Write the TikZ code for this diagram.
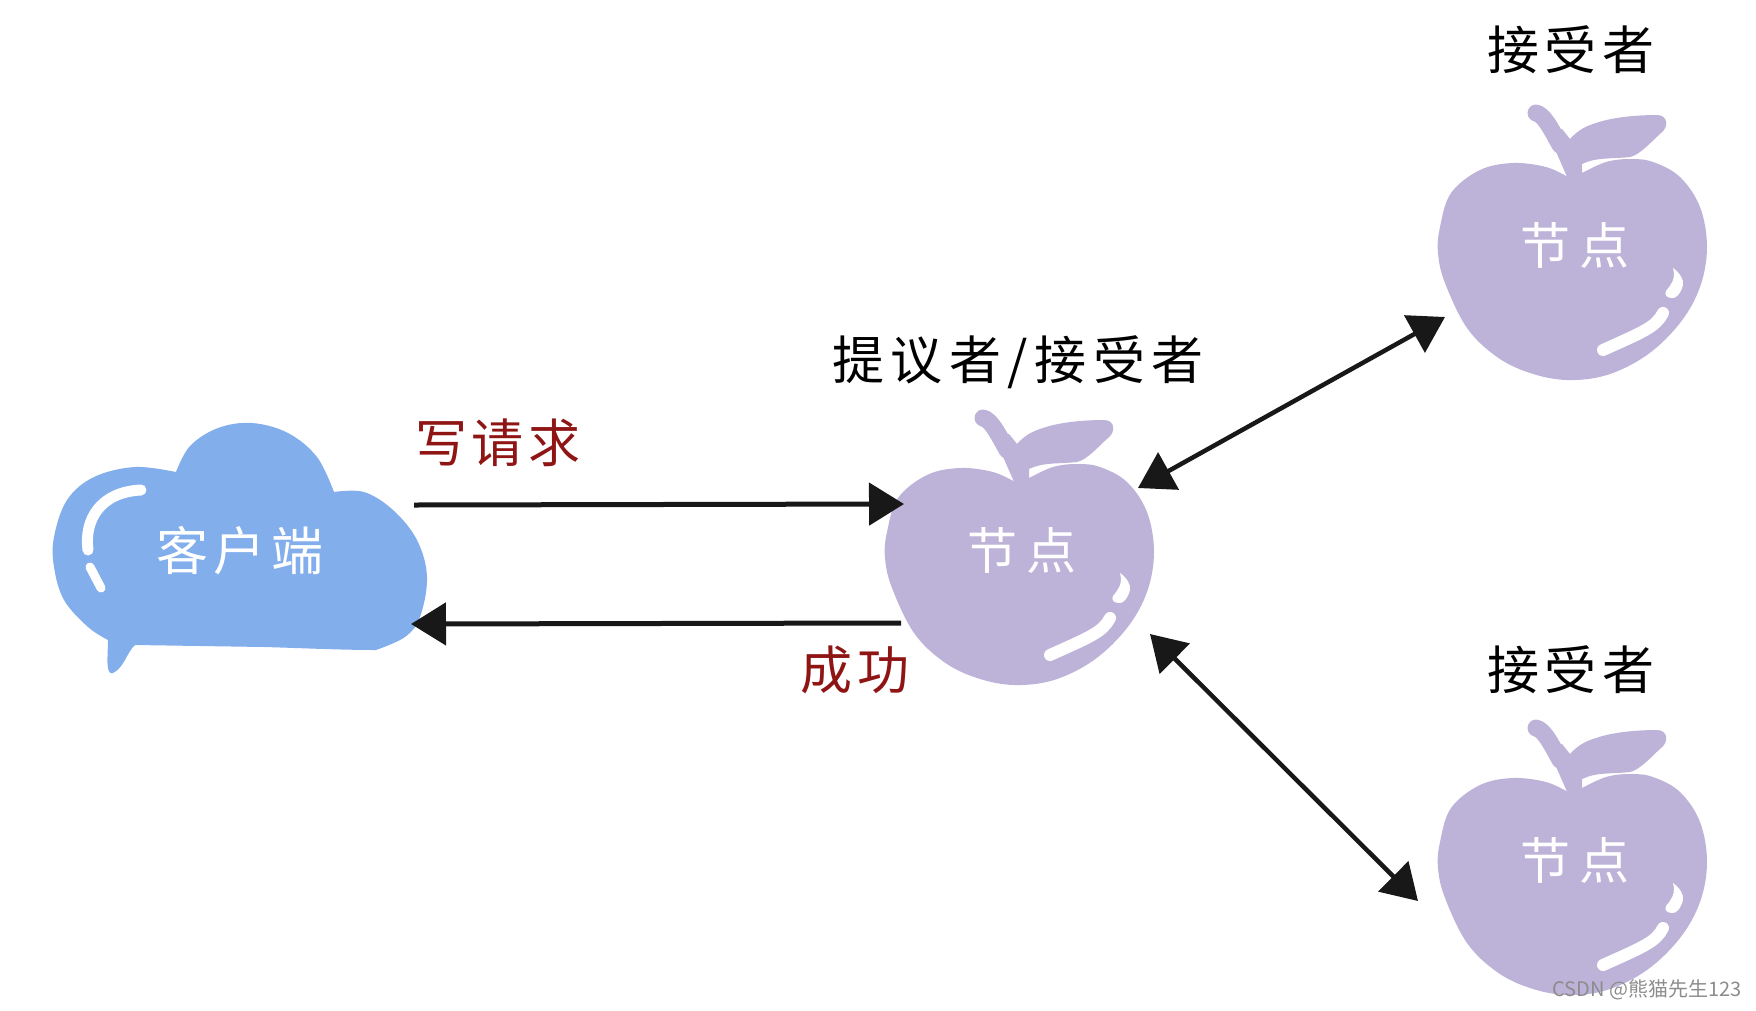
\documentclass[tikz,border=0pt]{standalone}
\usepackage{fontspec}
\usetikzlibrary{arrows.meta}
\newfontfamily\cjk{Noto Sans CJK SC}
\definecolor{applec}{HTML}{BDB3D8}
\definecolor{cloudc}{HTML}{82AEEB}
\definecolor{redc}{HTML}{8F1414}
\definecolor{inkc}{HTML}{181818}
\newcommand{\lbl}[1]{\fontsize{#1}{#1}\selectfont\cjk}
\tikzset{
  x=1pt,y=-1pt,
  blacklabel/.style={inner sep=0pt,text=black,font=\lbl{52}},
  redlabel/.style={inner sep=0pt,text=redc,font=\lbl{52}},
  whitelabel/.style={inner sep=0pt,text=white,font=\lbl{50}},
  conn/.style={draw=inkc,line width=4.5pt,{Triangle[length=35pt,width=42pt,fill=inkc]}-{Triangle[length=35pt,width=42pt,fill=inkc]}},
  connone/.style={draw=inkc,line width=5pt,-{Triangle[length=35pt,width=42pt,fill=inkc]}},
  apple/.pic={
    \fill[applec] plot[smooth,tension=.6] coordinates {(0,0) (-22,-10) (-55,-14) (-88,-7) (-117,16) (-128,50) (-130,76) (-123,106) (-101,151) (-71,180) (-38,196) (-1,203) (39,198) (79,178) (112,146) (132,110) (139,70) (132,30) (112,0) (85,-15) (62,-18) (38,-15) (14,-4)} -- cycle;
    \draw[applec,line width=17pt,line cap=round] (-32,-64) .. controls (-24,-62) and (-18,-50) .. (-8,-32);
    \fill[applec] (0,2) -- (-22,-48) -- (-6,-48) -- (2,-38) .. controls (10,-47) and (18,-51) .. (28,-54) .. controls (45,-60) and (70,-62) .. (89,-62) .. controls (100,-62) and (101,-50) .. (93,-44) .. controls (85,-37) and (72,-22) .. (62,-20) .. controls (45,-18) and (28,-20) .. (14,-13) -- (14,2) -- cycle;
    \fill[white] (105,91) .. controls (112,96) and (116,103) .. (115,108) .. controls (113,116) and (108,122) .. (104,121) .. controls (99,121) and (96,118) .. (98,114) .. controls (103,108) and (108,102) .. cycle;
    \draw[white,line width=12pt,line cap=round] (95,136) .. controls (88,150) and (75,155) .. (35,173);
    \node[whitelabel] (-t) at (7,68) {节\hspace{9pt}点};
  }
}
\begin{document}
\begin{tikzpicture}
\useasboundingbox (0,0) rectangle (1756,1010);
% client cloud
\fill[cloudc]
  plot[smooth,tension=.6] coordinates {(108,640) (88,627) (64,600) (54,567) (54,537) (67,500) (94,477) (135,467) (176,472)}
  -- plot[smooth,tension=.6] coordinates {(176,472) (190,446) (218,428) (252,423) (288,433) (317,457) (334,492)}
  -- plot[smooth,tension=.6] coordinates {(334,492) (364,492) (393,510) (417,540) (427,577) (420,617) (405,637) (376,650)}
  .. controls (340,650) and (300,648) .. (264,647) -- (135,645) .. controls (127,652) and (124,668) .. (113,673) .. controls (105,676) and (108,655) .. (108,640) -- cycle;
\draw[white,line width=11pt,line cap=round] (141,490) .. controls (100,492) and (84,520) .. (88,550);
\draw[white,line width=9pt,line cap=round] (90,567) -- (101,588);
\node[whitelabel,font=\lbl{52}] (client) at (240,551) {客\hspace{6pt}户\hspace{6pt}端};
% apples
\pic (apA) at (1015,482) {apple};
\pic (apB) at (1568,177) {apple};
\pic (apC) at (1568,792) {apple};
% labels
\node[blacklabel] (lA) at (1018,362) {提\hspace{6.5pt}议\hspace{6.5pt}者\hspace{6.5pt}/\hspace{6.5pt}接\hspace{6.5pt}受\hspace{6.5pt}者};
\node[blacklabel] (lB) at (1571,50) {接\hspace{6pt}受\hspace{6pt}者};
\node[blacklabel] (lC) at (1571,670) {接\hspace{6pt}受\hspace{6pt}者};
\node[redlabel] (lW) at (498,443) {写\hspace{5pt}请\hspace{5pt}求};
\node[redlabel] (lS) at (855,670) {成\hspace{6pt}功};
% connector ends
\coordinate (cOut) at (414,505);
\coordinate (aIn) at (904,504);
\coordinate (aOut) at (901,623);
\coordinate (cIn) at (411,624);
\coordinate (aUR) at (1138,488);
\coordinate (bDL) at (1445,317);
\coordinate (aDR) at (1150,634);
\coordinate (cUL) at (1418,901);
\draw[connone] (cOut) -- (aIn);
\draw[connone] (aOut) -- (cIn);
\draw[conn] (aUR) -- (bDL);
\draw[conn] (aDR) -- (cUL);
% watermark
\node[inner sep=0pt,text=black!45,font=\lbl{20}] (wm) at (1647,990) {CSDN @熊猫先生123};
\end{tikzpicture}
\end{document}
